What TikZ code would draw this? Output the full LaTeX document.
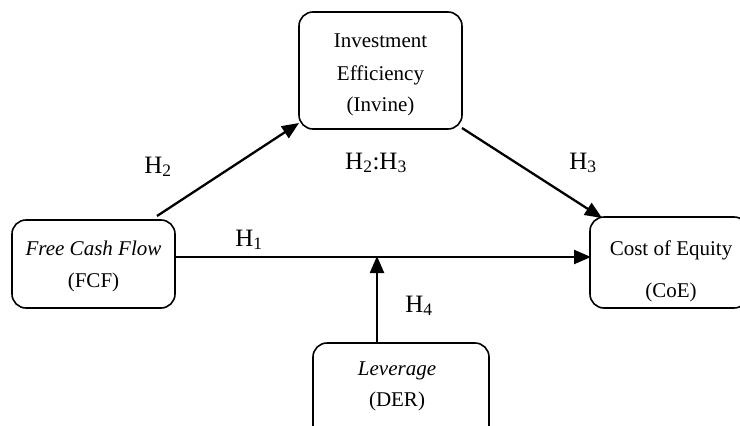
\documentclass[tikz,border=0pt]{standalone}
\usepackage{fontspec}
\setmainfont{Liberation Serif}
\usetikzlibrary{arrows.meta}
\begin{document}
\begin{tikzpicture}[x=1pt,y=-1pt,
  box/.style={draw,line width=1.6pt,rounded corners=14pt,inner sep=0pt},
  txt/.style={font=\fontsize{21}{32}\selectfont,align=center,inner sep=0pt},
  hlab/.style={font=\fontsize{25}{28}\selectfont,inner sep=0pt,anchor=base},
  arr/.style={line width=2.3pt,-{Triangle[length=17pt,width=14pt]}}]
\useasboundingbox (0,0) rectangle (740,426);
% boxes
\node[box,minimum width=163pt,minimum height=117pt] (inv) at (380.5,70.5) {};
\node[box,minimum width=163pt,minimum height=88pt] (fcf) at (93.5,264) {};
\node[box,minimum width=158pt,minimum height=91pt] (coe) at (669,262.5) {};
\node[box,minimum width=176pt,minimum height=97pt] (der) at (401,391.5) {};
% texts
\node[txt,anchor=base] (t1) at (380.5,47) {Investment};
\node[txt,anchor=base] (t2) at (380.5,80) {Efficiency};
\node[txt,anchor=base] (t3) at (380.5,111) {(Invine)};
\node[txt,anchor=base] (t4) at (93.5,255) {\textit{Free Cash Flow}};
\node[txt,anchor=base] (t5) at (93.5,287) {(FCF)};
\node[txt,anchor=base] (t6) at (671,255) {Cost of Equity};
\node[txt,anchor=base] (t7) at (671,297) {(CoE)};
\node[txt,anchor=base] (t8) at (397,375) {\textit{Leverage}};
\node[txt,anchor=base] (t9) at (397,406) {(DER)};
% connector end points
\coordinate (h2s) at (157,216);
\coordinate (h2e) at (299,123);
\coordinate (h3s) at (462,128);
\coordinate (h3e) at (602,218);
\coordinate (h1s) at (175,257);
\coordinate (h1e) at (591,257);
\coordinate (h4s) at (377,343);
\coordinate (h4e) at (377,256);
\draw[arr] (h2s) -- (h2e);
\draw[arr] (h3s) -- (h3e);
\draw[arr] (h1s) -- (h1e);
\draw[arr] (h4s) -- (h4e);
% labels
\node[hlab] (l2) at (158,173) {H\textsubscript{2}};
\node[hlab] (l23) at (376,169) {H\textsubscript{2}:H\textsubscript{3}};
\node[hlab] (l3) at (583,169) {H\textsubscript{3}};
\node[hlab] (l1) at (249,246) {H\textsubscript{1}};
\node[hlab] (l4) at (419,312) {H\textsubscript{4}};
\end{tikzpicture}
\end{document}
